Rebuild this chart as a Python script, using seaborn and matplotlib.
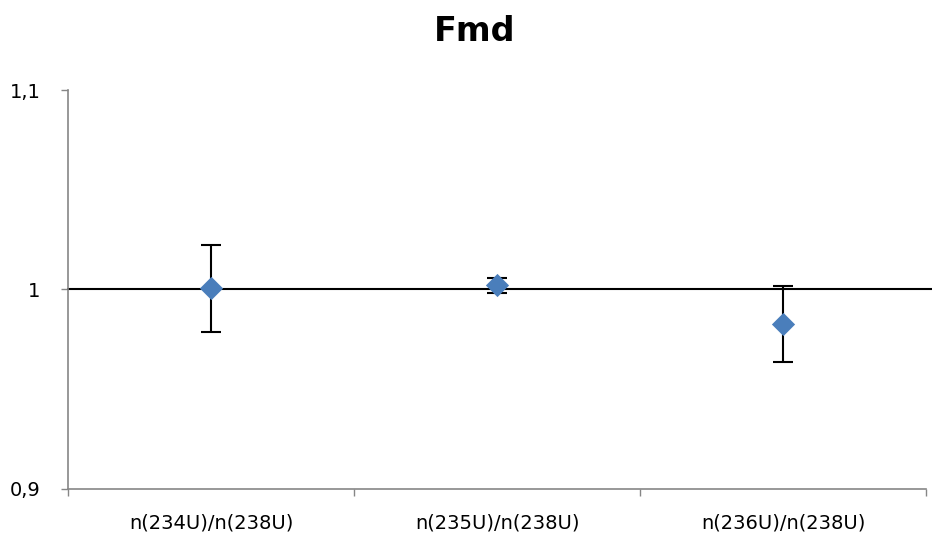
import matplotlib
matplotlib.use("Agg")
import matplotlib.pyplot as plt
import seaborn as sns
import pandas as pd

# Isotope amount ratios and their expanded uncertainties
ratios = ["n(234U)/n(238U)", "n(235U)/n(238U)", "n(236U)/n(238U)"]
fmd = [1.0006, 1.0021, 0.9829]
uncert = [0.0219, 0.0039, 0.0190]
y_ticks = [0.9, 1.0, 1.1]
y_labels = ["0,9", "1", "1,1"]

df = pd.DataFrame({"ratio": ratios, "fmd": fmd, "u": uncert})
df["pos"] = range(len(df))

sns.set_style("white")
plt.rcParams["font.family"] = ["DejaVu Sans"]
plt.rcParams["text.color"] = "black"
plt.rcParams["xtick.labelcolor"] = "black"
plt.rcParams["ytick.labelcolor"] = "black"

fig = plt.figure(figsize=(9.32, 5.37), dpi=100)
ax = fig.add_axes([0.073, 0.0894, 0.9206, 0.743])

axis_grey = "#868686"

# reference line at 1
ax.axhline(1.0, xmin=0, xmax=1.007, color="black", lw=1.5, clip_on=False, zorder=2)

ax.errorbar(df["pos"], df["fmd"], yerr=df["u"], fmt="none", ecolor="black",
            elinewidth=1.5, capsize=7, capthick=1.5, zorder=3)
sns.scatterplot(data=df, x="pos", y="fmd", marker="D", s=140, color="#4A7EBB",
                edgecolor="#4A7EBB", linewidth=0, ax=ax, zorder=4, legend=False)

ax.set_xlim(-0.5, 2.5)
ax.set_ylim(0.9, 1.1)
ax.set_yticks(y_ticks)
ax.set_yticklabels(y_labels, fontsize=14, color="black")
ax.set_xticks([-0.5, 0.5, 1.5, 2.5])
ax.set_xticklabels([])
ax.set_xticks(df["pos"], minor=True)
ax.set_xticklabels(ratios, minor=True, fontsize=14, color="black")
ax.tick_params(axis="x", which="minor", length=0, pad=18)
ax.tick_params(axis="both", which="major", length=5, width=1, color=axis_grey,
               direction="out", bottom=True, left=True)
ax.tick_params(axis="y", pad=15)
ax.set_xlabel("")
ax.set_ylabel("")

for side in ["top", "right"]:
    ax.spines[side].set_visible(False)
for side in ["left", "bottom"]:
    ax.spines[side].set_color(axis_grey)
    ax.spines[side].set_linewidth(1.2)

fig.text(0.509, 0.942, "Fmd", ha="center", va="center", fontsize=24,
         fontweight="bold", color="black")

fig.savefig("out.png", dpi=100)
